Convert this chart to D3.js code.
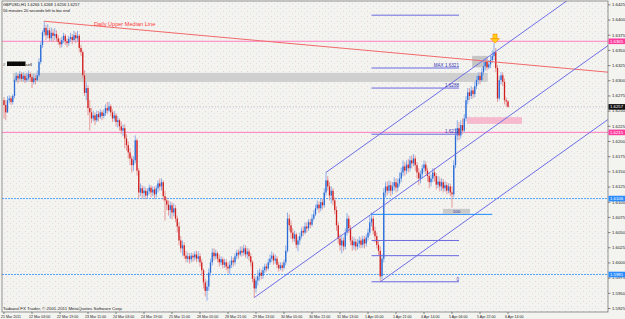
<!DOCTYPE html>
<html>
<head>
<meta charset="utf-8">
<script src="https://cdn.jsdelivr.net/npm/d3@7"></script>
<style>
  body { margin: 0; background: #f3f3f0; }
  svg { display: block; font-family: "Liberation Sans", Arial, sans-serif; }
</style>
</head>
<body>
<div id="chart"></div>
<script>
// ******* Data: GBPUSD H1, bars 0..288 (open = previous close) *******
var firstOpen = 1.6268;
var closes = [
  1.6260,1.6248,1.6268,1.6271,1.6265,1.6275,1.6301,1.6308,1.6304,1.6311,
  1.6303,1.6308,1.6301,1.6304,1.6311,1.6306,1.6298,1.6304,1.6301,1.6309,
  1.6331,1.6359,1.6380,1.6387,1.6375,1.6383,1.6370,1.6379,1.6374,1.6377,
  1.6370,1.6364,1.6360,1.6367,1.6374,1.6365,1.6362,1.6369,1.6372,1.6367,
  1.6375,1.6370,1.6374,1.6354,1.6347,1.6309,1.6280,1.6288,1.6255,1.6248,
  1.6238,1.6243,1.6235,1.6245,1.6240,1.6248,1.6242,1.6247,1.6255,1.6251,
  1.6258,1.6248,1.6238,1.6243,1.6232,1.6235,1.6225,1.6218,1.6222,1.6205,
  1.6194,1.6182,1.6172,1.6161,1.6169,1.6202,1.6152,1.6116,1.6123,1.6115,
  1.6119,1.6111,1.6118,1.6124,1.6116,1.6121,1.6113,1.6123,1.6131,1.6126,
  1.6133,1.6110,1.6103,1.6096,1.6087,1.6095,1.6083,1.6090,1.6073,1.6060,
  1.6037,1.6024,1.6029,1.6012,1.6007,1.6011,1.6006,1.6012,1.6009,1.6014,
  1.6007,1.6011,1.6001,1.5988,1.5968,1.5954,1.5961,1.5984,1.6001,1.6017,
  1.6011,1.6016,1.6007,1.6001,1.6006,1.5997,1.6001,1.5994,1.5991,1.5997,
  1.6004,1.6001,1.6011,1.6017,1.6014,1.6020,1.6017,1.6024,1.6014,1.6019,
  1.6011,1.6001,1.5974,1.5958,1.5971,1.5978,1.5984,1.5979,1.5988,1.5994,
  1.5991,1.6001,1.6007,1.6012,1.6004,1.6007,1.5997,1.5991,1.5996,1.5992,
  1.6001,1.6020,1.6073,1.6062,1.6050,1.6040,1.6047,1.6030,1.6037,1.6044,
  1.6053,1.6050,1.6060,1.6057,1.6067,1.6063,1.6073,1.6080,1.6090,1.6096,
  1.6090,1.6100,1.6095,1.6116,1.6136,1.6126,1.6111,1.6119,1.6103,1.6087,
  1.6062,1.6040,1.6029,1.6037,1.6027,1.6050,1.6073,1.6057,1.6037,1.6029,
  1.6035,1.6027,1.6032,1.6037,1.6030,1.6039,1.6032,1.6042,1.6050,1.6067,
  1.6073,1.6053,1.6044,1.6030,1.6020,1.5978,1.6007,1.6116,1.6126,1.6119,
  1.6128,1.6119,1.6126,1.6133,1.6124,1.6131,1.6139,1.6149,1.6159,1.6152,
  1.6162,1.6156,1.6169,1.6164,1.6172,1.6161,1.6149,1.6139,1.6146,1.6156,
  1.6162,1.6152,1.6143,1.6133,1.6139,1.6149,1.6143,1.6129,1.6134,1.6126,
  1.6133,1.6123,1.6128,1.6119,1.6126,1.6116,1.6113,1.6161,1.6210,1.6222,
  1.6210,1.6227,1.6218,1.6238,1.6268,1.6281,1.6275,1.6284,1.6278,1.6291,
  1.6301,1.6308,1.6301,1.6314,1.6324,1.6331,1.6322,1.6327,1.6334,1.6341,
  1.6347,1.6321,1.6271,1.6301,1.6309,1.6298,1.6268,1.6266,1.6257
];
var highs = [
  1.6273,1.6268,1.6275,1.6276,1.6275,1.6278,1.6304,1.6314,1.6311,1.6316,
  1.6314,1.6314,1.6311,1.6313,1.6317,1.6314,1.6309,1.6311,1.6309,1.6317,
  1.6337,1.6364,1.6383,1.6398,1.6392,1.6393,1.6387,1.6388,1.6385,1.6387,
  1.6383,1.6375,1.6370,1.6372,1.6379,1.6377,1.6370,1.6374,1.6379,1.6377,
  1.6382,1.6380,1.6382,1.6377,1.6359,1.6350,1.6317,1.6298,1.6293,1.6268,
  1.6255,1.6251,1.6248,1.6251,1.6250,1.6253,1.6251,1.6253,1.6261,1.6265,
  1.6265,1.6261,1.6253,1.6250,1.6247,1.6242,1.6238,1.6232,1.6228,1.6228,
  1.6212,1.6200,1.6189,1.6177,1.6176,1.6210,1.6205,1.6156,1.6131,1.6128,
  1.6126,1.6124,1.6123,1.6129,1.6128,1.6126,1.6126,1.6128,1.6136,1.6139,
  1.6139,1.6136,1.6119,1.6108,1.6103,1.6101,1.6100,1.6098,1.6095,1.6078,
  1.6067,1.6044,1.6037,1.6034,1.6020,1.6017,1.6016,1.6017,1.6016,1.6019,
  1.6020,1.6019,1.6016,1.6006,1.5991,1.5974,1.5971,1.5991,1.6007,1.6024,
  1.6024,1.6022,1.6019,1.6014,1.6011,1.6009,1.6007,1.6006,1.6001,1.6004,
  1.6011,1.6009,1.6016,1.6022,1.6022,1.6027,1.6027,1.6030,1.6029,1.6025,
  1.6024,1.6016,1.6004,1.5979,1.5978,1.5988,1.5991,1.5989,1.5994,1.5999,
  1.5999,1.6007,1.6014,1.6019,1.6016,1.6014,1.6011,1.6002,1.6001,1.6001,
  1.6006,1.6029,1.6083,1.6080,1.6070,1.6057,1.6053,1.6050,1.6044,1.6050,
  1.6058,1.6060,1.6067,1.6067,1.6072,1.6072,1.6080,1.6087,1.6096,1.6103,
  1.6101,1.6106,1.6105,1.6123,1.6149,1.6143,1.6133,1.6126,1.6123,1.6108,
  1.6093,1.6067,1.6047,1.6044,1.6042,1.6057,1.6082,1.6078,1.6062,1.6044,
  1.6042,1.6040,1.6039,1.6044,1.6042,1.6045,1.6044,1.6047,1.6057,1.6077,
  1.6083,1.6078,1.6060,1.6050,1.6037,1.6027,1.6014,1.6123,1.6133,1.6134,
  1.6136,1.6134,1.6133,1.6141,1.6139,1.6139,1.6149,1.6157,1.6169,1.6166,
  1.6169,1.6171,1.6176,1.6177,1.6179,1.6177,1.6166,1.6156,1.6152,1.6162,
  1.6169,1.6167,1.6157,1.6149,1.6146,1.6156,1.6156,1.6148,1.6143,1.6141,
  1.6139,1.6138,1.6134,1.6133,1.6131,1.6131,1.6126,1.6169,1.6222,1.6235,
  1.6232,1.6235,1.6238,1.6245,1.6275,1.6288,1.6288,1.6291,1.6289,1.6298,
  1.6308,1.6314,1.6314,1.6321,1.6331,1.6337,1.6336,1.6334,1.6341,1.6350,
  1.6362,1.6354,1.6326,1.6308,1.6314,1.6314,1.6304,1.6273,1.6268
];
var lows = [
  1.6238,1.6235,1.6247,1.6263,1.6260,1.6261,1.6271,1.6298,1.6296,1.6301,
  1.6299,1.6299,1.6296,1.6298,1.6301,1.6298,1.6288,1.6294,1.6294,1.6299,
  1.6306,1.6327,1.6354,1.6374,1.6367,1.6370,1.6364,1.6365,1.6364,1.6367,
  1.6364,1.6359,1.6354,1.6355,1.6362,1.6359,1.6355,1.6357,1.6364,1.6360,
  1.6364,1.6362,1.6364,1.6347,1.6341,1.6304,1.6275,1.6268,1.6243,1.6218,
  1.6230,1.6233,1.6227,1.6232,1.6233,1.6237,1.6235,1.6238,1.6242,1.6245,
  1.6248,1.6242,1.6232,1.6233,1.6225,1.6223,1.6218,1.6212,1.6209,1.6189,
  1.6185,1.6172,1.6161,1.6149,1.6152,1.6164,1.6144,1.6106,1.6110,1.6106,
  1.6108,1.6105,1.6106,1.6113,1.6108,1.6110,1.6105,1.6108,1.6116,1.6119,
  1.6119,1.6103,1.6070,1.6087,1.6078,1.6073,1.6072,1.6077,1.6067,1.6050,
  1.6029,1.6017,1.6012,1.6007,1.6001,1.6001,1.5999,1.6001,1.6002,1.6004,
  1.6001,1.6002,1.5994,1.5979,1.5958,1.5945,1.5938,1.5954,1.5979,1.5996,
  1.6004,1.6006,1.6001,1.5994,1.5996,1.5991,1.5992,1.5988,1.5983,1.5981,
  1.5992,1.5994,1.5997,1.6006,1.6007,1.6011,1.6011,1.6012,1.6009,1.6007,
  1.6004,1.5994,1.5968,1.5943,1.5951,1.5963,1.5971,1.5973,1.5974,1.5983,
  1.5986,1.5988,1.5997,1.6001,1.5997,1.5999,1.5991,1.5986,1.5988,1.5986,
  1.5989,1.5996,1.6017,1.6053,1.6040,1.6034,1.6035,1.6024,1.6019,1.6030,
  1.6040,1.6044,1.6047,1.6050,1.6053,1.6057,1.6060,1.6070,1.6077,1.6087,
  1.6082,1.6085,1.6088,1.6091,1.6111,1.6119,1.6103,1.6098,1.6095,1.6080,
  1.6053,1.6032,1.6020,1.6016,1.6020,1.6022,1.6045,1.6049,1.6029,1.6020,
  1.6022,1.6020,1.6022,1.6025,1.6024,1.6025,1.6024,1.6027,1.6037,1.6045,
  1.6060,1.6047,1.6034,1.6024,1.6012,1.5969,1.5973,1.6001,1.6108,1.6111,
  1.6115,1.6110,1.6113,1.6119,1.6116,1.6118,1.6126,1.6133,1.6143,1.6144,
  1.6146,1.6149,1.6151,1.6156,1.6159,1.6152,1.6139,1.6128,1.6131,1.6139,
  1.6149,1.6146,1.6134,1.6123,1.6126,1.6133,1.6134,1.6121,1.6123,1.6118,
  1.6119,1.6116,1.6118,1.6113,1.6115,1.6110,1.6091,1.6108,1.6156,1.6202,
  1.6202,1.6205,1.6212,1.6214,1.6233,1.6261,1.6268,1.6270,1.6271,1.6273,
  1.6286,1.6294,1.6294,1.6298,1.6309,1.6317,1.6317,1.6319,1.6321,1.6329,
  1.6334,1.6314,1.6265,1.6268,1.6294,1.6291,1.6261,1.6258,1.6256
];

// axis labels
var priceTicks = [1.5925,1.5950,1.5975,1.6000,1.6025,1.6050,1.6075,1.6100,1.6125,1.6150,1.6175,
  1.6200,1.6225,1.6250,1.6275,1.6300,1.6325,1.6350,1.6375,1.6400,1.6425];
var timeLabels = ["21 Mar 2011","22 Mar 03:00","22 Mar 19:00","23 Mar 11:00","24 Mar 03:00","24 Mar 19:00",
  "25 Mar 11:00","28 Mar 05:00","28 Mar 21:00","29 Mar 13:00","30 Mar 05:00","30 Mar 21:00","31 Mar 13:00",
  "1 Apr 05:00","1 Apr 21:00","4 Apr 14:00","5 Apr 06:00","5 Apr 22:00","6 Apr 14:00"];
var timeLabelBars = [0,16,32,48,64,80,96,112,128,144,160,176,192,208,224,240,256,272,288];

// objects on the chart
var hLinePrices = [1.6365, 1.6215, 1.6106, 1.5981];
var bidPrice = 1.6257;
var medianLineBars = [23, 288];
var medianLinePrices = [1.6398, 1.6329];
var pitchforkBars = [143, 184, 215];
var pitchforkPrices = [1.5943, 1.6149, 1.5969];
var fibBars = [210, 260];
var fibPrices = [1.6408, 1.6321, 1.6288, 1.6212, 1.6080, 1.6037, 1.6012, 1.5969];
var fibLabels = ["", "MAX 1.6321", "1.6288", "1.6212", "100", "", "", "0"];
var zoneBars = [[5, 276.5], [267.5, 276.5], [264.5, 296]];
var zonePrices = [[1.6313, 1.6298], [1.6341, 1.6322], [1.6240, 1.6229]];
var arrowBar = 280;

// ******* Set up *******
var w = 625, h = 319;
var plotL = 2, plotR = 608, plotT = 1, plotB = 312;
var x = d3.scaleLinear().domain([0, 288]).range([4, 508]);
var y = d3.scaleLinear().domain([1.5925, 1.6425]).range([308.5, 4.85]);

var svg = d3.select("#chart").append("svg").attr("width", w).attr("height", h);
var defs = svg.append("defs");
defs.append("clipPath").attr("id", "plotclip").append("rect")
  .attr("x", plotL).attr("y", plotT).attr("width", plotR - plotL).attr("height", plotB - plotT);
var pat = defs.append("pattern").attr("id", "dots").attr("width", 6).attr("height", 5)
  .attr("patternUnits", "userSpaceOnUse");
pat.append("rect").attr("x", 1).attr("y", 1).attr("width", 1).attr("height", 1).attr("fill", "#e8d2d8");
pat.append("rect").attr("x", 4).attr("y", 3).attr("width", 1).attr("height", 1).attr("fill", "#e4dde0");

svg.append("rect").attr("width", w).attr("height", h).attr("fill", "#f3f3f0");
svg.append("rect").attr("x", plotL).attr("y", plotT).attr("width", plotR - plotL).attr("height", plotB - plotT)
  .attr("fill", "url(#dots)");

var plot = svg.append("g").attr("clip-path", "url(#plotclip)");

// ******* Zones *******
var zoneFill = ["#cfcfcf", "#c6c6c6", "#f6b9cd"];
zoneBars.forEach(function (b, i) {
  plot.append("rect")
    .attr("x", x(b[0])).attr("width", x(b[1]) - x(b[0]))
    .attr("y", y(zonePrices[i][0])).attr("height", y(zonePrices[i][1]) - y(zonePrices[i][0]))
    .attr("fill", zoneFill[i]);
});

// ******* Horizontal levels *******
var hColor = ["#ff80c4", "#ff80c4", "#4da3ff", "#4da3ff"];
var hDash = [null, null, "2,1", "2,1"];
hLinePrices.forEach(function (p, i) {
  plot.append("line").attr("x1", plotL).attr("x2", plotR).attr("y1", y(p)).attr("y2", y(p))
    .attr("stroke", hColor[i]).attr("stroke-width", 1).attr("stroke-dasharray", hDash[i]);
});
plot.append("line").attr("x1", plotL).attr("x2", plotR).attr("y1", y(bidPrice)).attr("y2", y(bidPrice))
  .attr("stroke", "#c9bfd6").attr("stroke-dasharray", "1,2");

// ******* Candles *******
var bars = closes.map(function (c, i) {
  return { i: i, o: i ? closes[i - 1] : firstOpen, h: highs[i], l: lows[i], c: c };
});
plot.selectAll(".wick").data(bars).join("line")
  .attr("class", "wick")
  .attr("x1", d => x(d.i)).attr("x2", d => x(d.i))
  .attr("y1", d => y(Math.max(d.h, d.o, d.c))).attr("y2", d => y(Math.min(d.l, d.o, d.c)))
  .attr("stroke", d => d.c >= d.o ? "#8db0ea" : "#e79b9b").attr("stroke-width", 1);
plot.selectAll(".body").data(bars).join("rect")
  .attr("class", "body")
  .attr("x", d => x(d.i) - 0.65).attr("width", 1.3)
  .attr("y", d => y(Math.max(d.o, d.c)))
  .attr("height", d => Math.max(0.8, Math.abs(y(d.o) - y(d.c))))
  .attr("fill", d => d.c >= d.o ? "#2a6bd6" : "#d01e1e");

// ******* Daily upper median line *******
var mSlope = (medianLinePrices[1] - medianLinePrices[0]) / (medianLineBars[1] - medianLineBars[0]);
plot.append("line")
  .attr("x1", x(medianLineBars[0])).attr("y1", y(medianLinePrices[0]))
  .attr("x2", x(350)).attr("y2", y(medianLinePrices[0] + mSlope * (350 - medianLineBars[0])))
  .attr("stroke", "#f06a6a").attr("stroke-width", 1);

// ******* Andrews pitchfork *******
var midBar = (pitchforkBars[1] + pitchforkBars[2]) / 2;
var midPrice = (pitchforkPrices[1] + pitchforkPrices[2]) / 2;
var pSlope = (midPrice - pitchforkPrices[0]) / (midBar - pitchforkBars[0]);
pitchforkBars.forEach(function (b, i) {
  plot.append("line")
    .attr("x1", x(b)).attr("y1", y(pitchforkPrices[i]))
    .attr("x2", x(360)).attr("y2", y(pitchforkPrices[i] + pSlope * (360 - b)))
    .attr("stroke", "#6e6ee8").attr("stroke-width", 1);
});

// ******* Fibonacci levels *******
fibPrices.forEach(function (p, i) {
  var isHundred = fibLabels[i] === "100";
  plot.append("line")
    .attr("x1", x(fibBars[0])).attr("x2", isHundred ? x(279) : x(fibBars[1]))
    .attr("y1", y(p)).attr("y2", y(p))
    .attr("stroke", isHundred ? "#1e8cff" : "#6a6ae0").attr("stroke-width", 1);
});
fibPrices.forEach(function (p, i) {
  var lbl = fibLabels[i];
  if (!lbl) return;
  if (lbl === "100") {
    plot.append("rect").attr("x", 443).attr("y", y(p) - 5.5).attr("width", 27).attr("height", 5)
      .attr("fill", "#cacaca");
    plot.append("text").attr("x", 456.5).attr("y", y(p) - 1.3).attr("text-anchor", "middle")
      .attr("font-size", 4.4).attr("fill", "#2a2aa8").text(lbl);
  } else {
    plot.append("text").attr("x", x(fibBars[1])).attr("y", y(p) - 1).attr("text-anchor", "end")
      .attr("font-size", 4.6).attr("fill", "#3434b4").text(lbl);
  }
});

// ******* Marker arrow above the top *******
var ax = x(arrowBar) + 1;
var aTop = y(highs[arrowBar]) - 9;
plot.append("rect").attr("x", ax - 2).attr("y", aTop).attr("width", 4).attr("height", 4.5)
  .attr("fill", "#ffd21a").attr("stroke", "#ff8a00").attr("stroke-width", 0.7);
plot.append("path")
  .attr("d", `M${ax - 4.5},${aTop + 4.5} L${ax + 4.5},${aTop + 4.5} L${ax},${aTop + 9} Z`)
  .attr("fill", "#ffd21a").attr("stroke", "#ff8a00").attr("stroke-width", 0.7);

// ******* Texts inside the chart *******
svg.append("text").attr("x", 94).attr("y", 25.5).attr("font-size", 5.6).attr("fill", "#ff3b3b")
  .text("Daily Upper Median Line");
svg.append("text").attr("x", 3).attr("y", 5.5).attr("font-size", 4).attr("fill", "#111")
  .text("GBPUSD,H1  1.6266 1.6268 1.6256 1.6257");
svg.append("text").attr("x", 3).attr("y", 11.5).attr("font-size", 4).attr("fill", "#111")
  .text("56 minutes 20 seconds left to bar end");
svg.append("text").attr("x", 3).attr("y", 66).attr("font-size", 4.4).attr("fill", "#111").text("#");
svg.append("rect").attr("x", 7).attr("y", 61.5).attr("width", 18.5).attr("height", 4.5).attr("fill", "#0a0a0a");
svg.append("text").attr("x", 25.5).attr("y", 66).attr("font-size", 4.4).attr("fill", "#111").text("sell");
svg.append("text").attr("x", 3).attr("y", 309.5).attr("font-size", 4.4).attr("fill", "#222")
  .text("Tadawul FX Trader, \u00a9 2001-2011 MetaQuotes Software Corp.");

// ******* Frame and axes *******
svg.append("rect").attr("x", plotL).attr("y", plotT).attr("width", plotR - plotL).attr("height", plotB - plotT)
  .attr("fill", "none").attr("stroke", "#7a7a7a").attr("stroke-width", 0.8);

svg.selectAll(".ptick").data(priceTicks).join("line")
  .attr("x1", plotR).attr("x2", plotR + 2.5).attr("y1", d => y(d)).attr("y2", d => y(d))
  .attr("stroke", "#555").attr("stroke-width", 0.7);
svg.selectAll(".plabel").data(priceTicks).join("text")
  .attr("x", plotR + 4).attr("y", d => y(d) + 1.3)
  .attr("font-size", 4.3).attr("fill", "#222")
  .text(d => d.toFixed(4));

// price tags on the axis
var tagPrices = [hLinePrices[0], hLinePrices[1], hLinePrices[2], hLinePrices[3], bidPrice];
var tagColors = ["#ff3d9e", "#ff3d9e", "#2a8cff", "#2a8cff", "#111111"];
tagPrices.forEach(function (p, i) {
  svg.append("rect").attr("x", plotR + 0.5).attr("y", y(p) - 2.8).attr("width", 16.5).attr("height", 5.6)
    .attr("fill", tagColors[i]);
  svg.append("text").attr("x", plotR + 2).attr("y", y(p) + 1.4).attr("font-size", 4.3)
    .attr("fill", "#ffffff").text(p.toFixed(4));
});

svg.selectAll(".ttick").data(timeLabelBars).join("line")
  .attr("x1", d => x(d)).attr("x2", d => x(d)).attr("y1", plotB).attr("y2", plotB + 2)
  .attr("stroke", "#555").attr("stroke-width", 0.7);
svg.selectAll(".tlabel").data(timeLabels).join("text")
  .attr("x", (d, i) => x(timeLabelBars[i]) - 3).attr("y", 318.3)
  .attr("font-size", 3.6).attr("fill", "#222")
  .text(d => d);
</script>
</body>
</html>
